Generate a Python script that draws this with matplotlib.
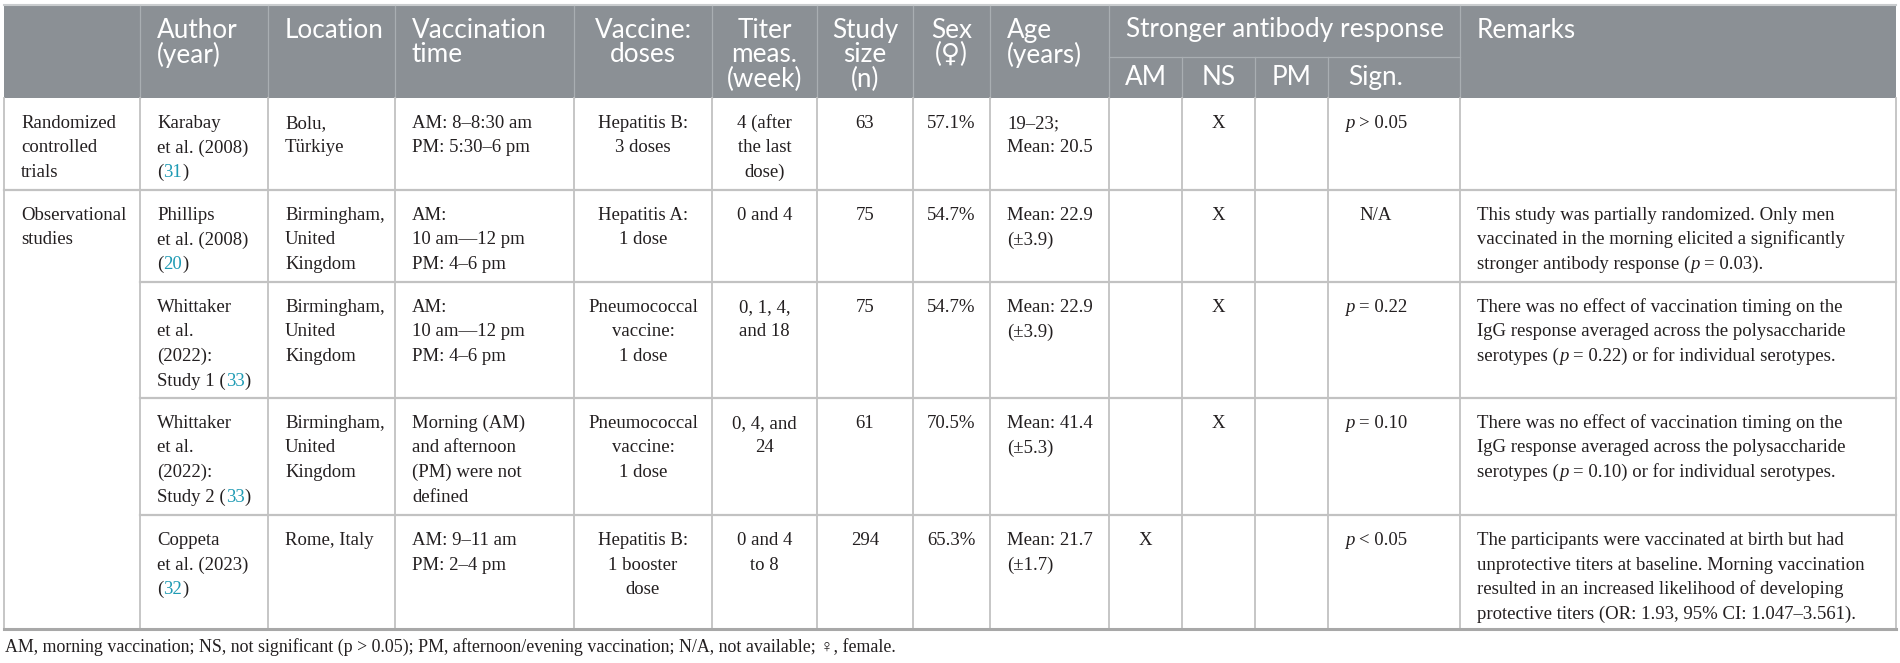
import re
import matplotlib
matplotlib.use("Agg")
import matplotlib.pyplot as plt
from matplotlib.patches import Rectangle
from matplotlib.font_manager import FontProperties

# ---- table content ----
header_labels = ["", "Author\n(year)", "Location", "Vaccination\ntime", "Vaccine:\ndoses",
                 "Titer\nmeas.\n(week)", "Study\nsize\n(n)", "Sex\n(\u2640)", "Age\n(years)"]
group_label = "Stronger antibody response"
sub_labels = ["AM", "NS", "PM", "Sign."]
remarks_label = "Remarks"

designs = ["Randomized\ncontrolled\ntrials", "Observational\nstudies"]
design_rows = [1, 4]

authors = ["Karabay\net al. (2008)\n({31})",
           "Phillips\net al. (2008)\n({20})",
           "Whittaker\net al.\n(2022):\nStudy 1 ({33})",
           "Whittaker\net al.\n(2022):\nStudy 2 ({33})",
           "Coppeta\net al. (2023)\n({32})"]
locations = ["Bolu,\nT\u00fcrkiye",
             "Birmingham,\nUnited\nKingdom",
             "Birmingham,\nUnited\nKingdom",
             "Birmingham,\nUnited\nKingdom",
             "Rome, Italy"]
vacc_times = ["AM: 8\u20138:30 am\nPM: 5:30\u20136 pm",
              "AM:\n10 am\u201412 pm\nPM: 4\u20136 pm",
              "AM:\n10 am\u201412 pm\nPM: 4\u20136 pm",
              "Morning (AM)\nand afternoon\n(PM) were not\ndefined",
              "AM: 9\u201311 am\nPM: 2\u20134 pm"]
vaccines = ["Hepatitis B:\n3 doses",
            "Hepatitis A:\n1 dose",
            "Pneumococcal\nvaccine:\n1 dose",
            "Pneumococcal\nvaccine:\n1 dose",
            "Hepatitis B:\n1 booster\ndose"]
titer_weeks = ["4 (after\nthe last\ndose)", "0 and 4", "0, 1, 4,\nand 18", "0, 4, and\n24", "0 and 4\nto 8"]
study_sizes = [63, 75, 75, 61, 294]
female_pct = [57.1, 54.7, 54.7, 70.5, 65.3]
ages = ["19\u201323;\nMean: 20.5", "Mean: 22.9\n(\u00b13.9)", "Mean: 22.9\n(\u00b13.9)",
        "Mean: 41.4\n(\u00b15.3)", "Mean: 21.7\n(\u00b11.7)"]
stronger_am = ["", "", "", "", "X"]
stronger_ns = ["X", "X", "X", "X", ""]
stronger_pm = ["", "", "", "", ""]
significance = ["*p* > 0.05", "N/A", "*p* = 0.22", "*p* = 0.10", "*p* < 0.05"]
remarks = ["",
           "This study was partially randomized. Only men\n"
           "vaccinated in the morning elicited a significantly\n"
           "stronger antibody response (*p* = 0.03).",
           "There was no effect of vaccination timing on the\n"
           "IgG response averaged across the polysaccharide\n"
           "serotypes (*p* = 0.22) or for individual serotypes.",
           "There was no effect of vaccination timing on the\n"
           "IgG response averaged across the polysaccharide\n"
           "serotypes (*p* = 0.10) or for individual serotypes.",
           "The participants were vaccinated at birth but had\n"
           "unprotective titers at baseline. Morning vaccination\n"
           "resulted in an increased likelihood of developing\n"
           "protective titers (OR: 1.93, 95% CI: 1.047\u20133.561)."]
footnote = ("AM, morning vaccination; NS, not significant (p > 0.05); PM, afternoon/evening "
            "vaccination; N/A, not available; \u2640, female.")

# ---- layout ----
W, H = 1900, 663
col_x = [4, 140, 268, 395, 574, 712, 817, 913, 990, 1109, 1182, 1255, 1328, 1460, 1896]
row_y = [98, 190, 282, 398, 515, 629]
head_top, sub_y = 5, 57
body_align = ["l", "l", "l", "l", "c", "c", "c", "c", "l", "c", "c", "c", "s", "l"]
head_align = ["l", "l", "l", "l", "c", "c", "c", "c", "l"]
pad = 17
line_h = 24.5

head_bg = "#8b9095"
head_line = "#a9aeb2"
grid = "#c2c2c2"
txt = "#231f20"
teal = "#1f9bb4"

fig = plt.figure(figsize=(W / 100, H / 100), dpi=100)
ax = fig.add_axes([0, 0, 1, 1])
ax.set_xlim(0, W)
ax.set_ylim(H, 0)
ax.axis("off")
renderer = fig.canvas.get_renderer()

serif = ["Liberation Serif", "DejaVu Sans"]
body_fp = FontProperties(family=serif, size=13.5)
ital_fp = FontProperties(family=serif, size=13.5, style="italic")
head_fp = FontProperties(family=["Lato", "DejaVu Sans"], size=18.8)
foot_fp = FontProperties(family=serif, size=12.9)


def text_w(s, fp):
    if not s:
        return 0
    w1 = renderer.get_text_width_height_descent("|" + s + "|", fp, ismath=False)[0]
    w0 = renderer.get_text_width_height_descent("||", fp, ismath=False)[0]
    return w1 - w0


def runs_of(line):
    out = []
    for part in re.split(r"(\*[^*]+\*|\{[^}]+\})", line):
        if not part:
            continue
        if part.startswith("*"):
            out.append((part[1:-1], ital_fp, txt))
        elif part.startswith("{"):
            out.append((part[1:-1], body_fp, teal))
        else:
            out.append((part, body_fp, txt))
    return out


def draw_line(x, y, line, align, runs=None):
    runs = runs if runs is not None else runs_of(line)
    total = sum(text_w(s, fp) for s, fp, c in runs)
    if align != "l":
        x = x - total / 2
    for s, fp, c in runs:
        lead = len(s) - len(s.lstrip())
        if s.strip():
            ax.text(x + text_w(s[:lead], fp), y, s.strip(), fontproperties=fp,
                    color=c, ha="left", va="baseline")
        x += text_w(s, fp)


def cell_x(ci, align):
    if align == "l":
        return col_x[ci] + pad
    if align == "s":
        return (col_x[ci] + col_x[ci + 1]) / 2 - 18
    return (col_x[ci] + col_x[ci + 1]) / 2


def draw_cell(ci, top, content, align):
    for i, line in enumerate(str(content).split("\n")):
        draw_line(cell_x(ci, align), top + 30 + i * line_h, line, align)


def draw_head(ci, base, label, align):
    for i, line in enumerate(label.split("\n")):
        draw_line(cell_x(ci, align), base + i * 24.5, line, align,
                  runs=[(line, head_fp, "white")])


# ---- header ----
ax.add_patch(Rectangle((col_x[0], head_top), col_x[-1] - col_x[0], row_y[0] - head_top,
                       facecolor=head_bg, edgecolor="none"))
ax.plot([col_x[0], col_x[-1]], [head_top, head_top], color="#c9ccce", lw=1.5)
for ci in range(1, len(col_x) - 1):
    y0 = sub_y if ci in (10, 11, 12) else head_top + 1
    ax.plot([col_x[ci], col_x[ci]], [y0, row_y[0]], color=head_line, lw=0.9)
ax.plot([col_x[9], col_x[13]], [sub_y, sub_y], color=head_line, lw=0.9)

for ci, label in enumerate(header_labels):
    if label:
        draw_head(ci, 38, label, head_align[ci])
draw_head(9, 37, group_label, "l")
for k, label in enumerate(sub_labels):
    draw_head(9 + k, 85, label, "s" if label == "Sign." else "c")
draw_head(13, 38, remarks_label, "l")

# ---- body grid ----
for x in col_x:
    ax.plot([x, x], [row_y[0], row_y[-1]], color=grid, lw=1.3)
ax.plot([col_x[0], col_x[-1]], [row_y[1], row_y[1]], color=grid, lw=1.6)
for y in row_y[2:-1]:
    ax.plot([col_x[1], col_x[-1]], [y, y], color=grid, lw=1.6)
ax.plot([col_x[0], col_x[-1]], [row_y[-1], row_y[-1]], color="#a8a8a8", lw=2.2)

# ---- body text ----
r = 0
for label, span in zip(designs, design_rows):
    draw_cell(0, row_y[r], label, "l")
    r += span

for r in range(len(authors)):
    cells = [authors[r], locations[r], vacc_times[r], vaccines[r], titer_weeks[r],
             study_sizes[r], f"{female_pct[r]}%", ages[r], stronger_am[r],
             stronger_ns[r], stronger_pm[r], significance[r], remarks[r]]
    for k, content in enumerate(cells):
        if content != "":
            draw_cell(k + 1, row_y[r], content, body_align[k + 1])

# ---- footnote ----
draw_line(5, 652, footnote, "l", runs=[(footnote, foot_fp, txt)])

fig.savefig("out.png", dpi=100, facecolor="white")
